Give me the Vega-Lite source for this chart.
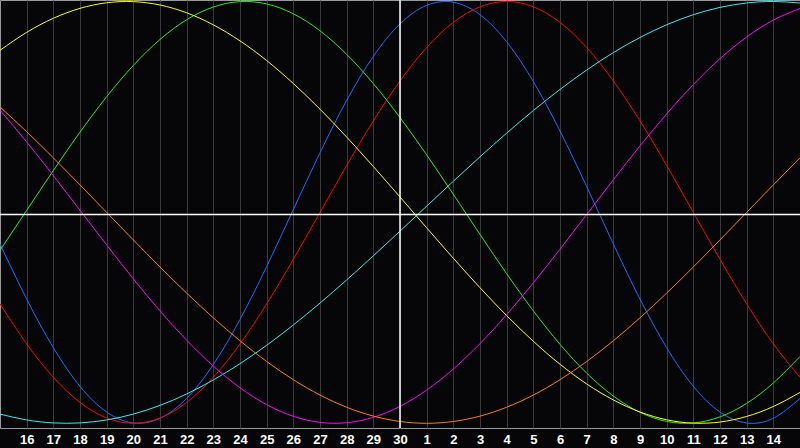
{
  "$schema": "https://vega.github.io/schema/vega-lite/v6.json",
  "width": 800,
  "height": 428,
  "autosize": {"type": "none"},
  "padding": {"left": 0, "top": 0, "right": 0, "bottom": 20},
  "background": "#060608",
  "config": {
    "view": {"stroke": "#9a9a9a", "strokeWidth": 1, "fill": "#060608"},
    "axisX": {
      "grid": true, "gridColor": "#3a3a3a", "gridWidth": 1,
      "domain": false, "ticks": false, "tickSize": 0,
      "labelColor": "#ffffff", "labelFont": "Liberation Sans", "labelFontWeight": "bold",
      "labelFontSize": 13, "labelPadding": 5, "labelAngle": 0, "labelFlush": false, "labelOverlap": false
    }
  },
  "datasets": {
    "curves": [
      {"s":"Physical","t":0,"v":-0.1497},{"s":"Physical","t":1,"v":-0.411},{"s":"Physical","t":2,"v":-0.6415},{"s":"Physical","t":3,"v":-0.8247},{"s":"Physical","t":4,"v":-0.9468},{"s":"Physical","t":5,"v":-0.9985},{"s":"Physical","t":6,"v":-0.9762},{"s":"Physical","t":7,"v":-0.8816},{"s":"Physical","t":8,"v":-0.7217},{"s":"Physical","t":9,"v":-0.5077},{"s":"Physical","t":10,"v":-0.2566},{"s":"Physical","t":11,"v":0.0136},{"s":"Physical","t":12,"v":0.2828},{"s":"Physical","t":13,"v":0.5313},{"s":"Physical","t":14,"v":0.7398},{"s":"Physical","t":15,"v":0.8941},{"s":"Physical","t":16,"v":0.9818},{"s":"Physical","t":17,"v":0.9966},{"s":"Physical","t":18,"v":0.9376},{"s":"Physical","t":19,"v":0.809},{"s":"Physical","t":20,"v":0.6205},{"s":"Physical","t":21,"v":0.3859},{"s":"Physical","t":22,"v":0.1226},{"s":"Physical","t":23,"v":-0.1497},{"s":"Physical","t":24,"v":-0.411},{"s":"Physical","t":25,"v":-0.6415},{"s":"Physical","t":26,"v":-0.8247},{"s":"Physical","t":27,"v":-0.9468},{"s":"Physical","t":28,"v":-0.9985},{"s":"Physical","t":29,"v":-0.9762},{"s":"Physical","t":30,"v":-0.8816},
      {"s":"Emotional","t":0,"v":-0.4339},{"s":"Emotional","t":1,"v":-0.6235},{"s":"Emotional","t":2,"v":-0.7818},{"s":"Emotional","t":3,"v":-0.901},{"s":"Emotional","t":4,"v":-0.9749},{"s":"Emotional","t":5,"v":-1},{"s":"Emotional","t":6,"v":-0.9749},{"s":"Emotional","t":7,"v":-0.901},{"s":"Emotional","t":8,"v":-0.7818},{"s":"Emotional","t":9,"v":-0.6235},{"s":"Emotional","t":10,"v":-0.4339},{"s":"Emotional","t":11,"v":-0.2225},{"s":"Emotional","t":12,"v":0},{"s":"Emotional","t":13,"v":0.2225},{"s":"Emotional","t":14,"v":0.4339},{"s":"Emotional","t":15,"v":0.6235},{"s":"Emotional","t":16,"v":0.7818},{"s":"Emotional","t":17,"v":0.901},{"s":"Emotional","t":18,"v":0.9749},{"s":"Emotional","t":19,"v":1},{"s":"Emotional","t":20,"v":0.9749},{"s":"Emotional","t":21,"v":0.901},{"s":"Emotional","t":22,"v":0.7818},{"s":"Emotional","t":23,"v":0.6235},{"s":"Emotional","t":24,"v":0.4339},{"s":"Emotional","t":25,"v":0.2225},{"s":"Emotional","t":26,"v":0},{"s":"Emotional","t":27,"v":-0.2225},{"s":"Emotional","t":28,"v":-0.4339},{"s":"Emotional","t":29,"v":-0.6235},{"s":"Emotional","t":30,"v":-0.7818},
      {"s":"Intellectual","t":0,"v":-0.1798},{"s":"Intellectual","t":1,"v":0.0096},{"s":"Intellectual","t":2,"v":0.1986},{"s":"Intellectual","t":3,"v":0.3804},{"s":"Intellectual","t":4,"v":0.5487},{"s":"Intellectual","t":5,"v":0.697},{"s":"Intellectual","t":6,"v":0.82},{"s":"Intellectual","t":7,"v":0.9135},{"s":"Intellectual","t":8,"v":0.974},{"s":"Intellectual","t":9,"v":0.9993},{"s":"Intellectual","t":10,"v":0.9884},{"s":"Intellectual","t":11,"v":0.9418},{"s":"Intellectual","t":12,"v":0.8612},{"s":"Intellectual","t":13,"v":0.7494},{"s":"Intellectual","t":14,"v":0.6107},{"s":"Intellectual","t":15,"v":0.4498},{"s":"Intellectual","t":16,"v":0.2726},{"s":"Intellectual","t":17,"v":0.0856},{"s":"Intellectual","t":18,"v":-0.1045},{"s":"Intellectual","t":19,"v":-0.2908},{"s":"Intellectual","t":20,"v":-0.4667},{"s":"Intellectual","t":21,"v":-0.6255},{"s":"Intellectual","t":22,"v":-0.7621},{"s":"Intellectual","t":23,"v":-0.8708},{"s":"Intellectual","t":24,"v":-0.948},{"s":"Intellectual","t":25,"v":-0.9911},{"s":"Intellectual","t":26,"v":-0.9984},{"s":"Intellectual","t":27,"v":-0.9695},{"s":"Intellectual","t":28,"v":-0.9056},{"s":"Intellectual","t":29,"v":-0.809},{"s":"Intellectual","t":30,"v":-0.6834},
      {"s":"Aesthetic","t":0,"v":0.7686},{"s":"Aesthetic","t":1,"v":0.8536},{"s":"Aesthetic","t":2,"v":0.9204},{"s":"Aesthetic","t":3,"v":0.9675},{"s":"Aesthetic","t":4,"v":0.994},{"s":"Aesthetic","t":5,"v":0.9993},{"s":"Aesthetic","t":6,"v":0.9834},{"s":"Aesthetic","t":7,"v":0.9464},{"s":"Aesthetic","t":8,"v":0.8893},{"s":"Aesthetic","t":9,"v":0.8133},{"s":"Aesthetic","t":10,"v":0.72},{"s":"Aesthetic","t":11,"v":0.6111},{"s":"Aesthetic","t":12,"v":0.4894},{"s":"Aesthetic","t":13,"v":0.3572},{"s":"Aesthetic","t":14,"v":0.2174},{"s":"Aesthetic","t":15,"v":0.0731},{"s":"Aesthetic","t":16,"v":-0.0731},{"s":"Aesthetic","t":17,"v":-0.2174},{"s":"Aesthetic","t":18,"v":-0.3572},{"s":"Aesthetic","t":19,"v":-0.4894},{"s":"Aesthetic","t":20,"v":-0.6111},{"s":"Aesthetic","t":21,"v":-0.72},{"s":"Aesthetic","t":22,"v":-0.8133},{"s":"Aesthetic","t":23,"v":-0.8893},{"s":"Aesthetic","t":24,"v":-0.9464},{"s":"Aesthetic","t":25,"v":-0.9834},{"s":"Aesthetic","t":26,"v":-0.9993},{"s":"Aesthetic","t":27,"v":-0.994},{"s":"Aesthetic","t":28,"v":-0.9675},{"s":"Aesthetic","t":29,"v":-0.9204},{"s":"Aesthetic","t":30,"v":-0.8536},
      {"s":"Spiritual","t":0,"v":-0.9564},{"s":"Spiritual","t":1,"v":-0.9842},{"s":"Spiritual","t":2,"v":-0.9982},{"s":"Spiritual","t":3,"v":-0.9982},{"s":"Spiritual","t":4,"v":-0.9842},{"s":"Spiritual","t":5,"v":-0.9564},{"s":"Spiritual","t":6,"v":-0.9151},{"s":"Spiritual","t":7,"v":-0.861},{"s":"Spiritual","t":8,"v":-0.7945},{"s":"Spiritual","t":9,"v":-0.7175},{"s":"Spiritual","t":10,"v":-0.63},{"s":"Spiritual","t":11,"v":-0.5338},{"s":"Spiritual","t":12,"v":-0.43},{"s":"Spiritual","t":13,"v":-0.3203},{"s":"Spiritual","t":14,"v":-0.206},{"s":"Spiritual","t":15,"v":-0.0887},{"s":"Spiritual","t":16,"v":0.0297},{"s":"Spiritual","t":17,"v":0.1476},{"s":"Spiritual","t":18,"v":0.2636},{"s":"Spiritual","t":19,"v":0.3759},{"s":"Spiritual","t":20,"v":0.4828},{"s":"Spiritual","t":21,"v":0.583},{"s":"Spiritual","t":22,"v":0.6749},{"s":"Spiritual","t":23,"v":0.7576},{"s":"Spiritual","t":24,"v":0.8294},{"s":"Spiritual","t":25,"v":0.8897},{"s":"Spiritual","t":26,"v":0.9374},{"s":"Spiritual","t":27,"v":0.972},{"s":"Spiritual","t":28,"v":0.993},{"s":"Spiritual","t":29,"v":1},{"s":"Spiritual","t":30,"v":0.993},
      {"s":"Intuitive","t":0,"v":0.4848},{"s":"Intuitive","t":1,"v":0.3341},{"s":"Intuitive","t":2,"v":0.1745},{"s":"Intuitive","t":3,"v":0.0101},{"s":"Intuitive","t":4,"v":-0.1547},{"s":"Intuitive","t":5,"v":-0.3152},{"s":"Intuitive","t":6,"v":-0.4672},{"s":"Intuitive","t":7,"v":-0.6062},{"s":"Intuitive","t":8,"v":-0.7288},{"s":"Intuitive","t":9,"v":-0.8317},{"s":"Intuitive","t":10,"v":-0.9117},{"s":"Intuitive","t":11,"v":-0.9669},{"s":"Intuitive","t":12,"v":-0.9957},{"s":"Intuitive","t":13,"v":-0.9974},{"s":"Intuitive","t":14,"v":-0.9718},{"s":"Intuitive","t":15,"v":-0.9198},{"s":"Intuitive","t":16,"v":-0.8426},{"s":"Intuitive","t":17,"v":-0.7424},{"s":"Intuitive","t":18,"v":-0.6222},{"s":"Intuitive","t":19,"v":-0.4846},{"s":"Intuitive","t":20,"v":-0.3341},{"s":"Intuitive","t":21,"v":-0.1745},{"s":"Intuitive","t":22,"v":-0.0099},{"s":"Intuitive","t":23,"v":0.1547},{"s":"Intuitive","t":24,"v":0.3153},{"s":"Intuitive","t":25,"v":0.4672},{"s":"Intuitive","t":26,"v":0.6062},{"s":"Intuitive","t":27,"v":0.729},{"s":"Intuitive","t":28,"v":0.8317},{"s":"Intuitive","t":29,"v":0.9118},{"s":"Intuitive","t":30,"v":0.9669},
      {"s":"Awareness","t":0,"v":0.5},{"s":"Awareness","t":1,"v":0.3827},{"s":"Awareness","t":2,"v":0.2588},{"s":"Awareness","t":3,"v":0.1305},{"s":"Awareness","t":4,"v":0},{"s":"Awareness","t":5,"v":-0.1305},{"s":"Awareness","t":6,"v":-0.2588},{"s":"Awareness","t":7,"v":-0.3827},{"s":"Awareness","t":8,"v":-0.5},{"s":"Awareness","t":9,"v":-0.6088},{"s":"Awareness","t":10,"v":-0.7071},{"s":"Awareness","t":11,"v":-0.7934},{"s":"Awareness","t":12,"v":-0.866},{"s":"Awareness","t":13,"v":-0.9239},{"s":"Awareness","t":14,"v":-0.9659},{"s":"Awareness","t":15,"v":-0.9914},{"s":"Awareness","t":16,"v":-1},{"s":"Awareness","t":17,"v":-0.9914},{"s":"Awareness","t":18,"v":-0.9659},{"s":"Awareness","t":19,"v":-0.9239},{"s":"Awareness","t":20,"v":-0.866},{"s":"Awareness","t":21,"v":-0.7934},{"s":"Awareness","t":22,"v":-0.7071},{"s":"Awareness","t":23,"v":-0.6088},{"s":"Awareness","t":24,"v":-0.5},{"s":"Awareness","t":25,"v":-0.3827},{"s":"Awareness","t":26,"v":-0.2588},{"s":"Awareness","t":27,"v":-0.1305},{"s":"Awareness","t":28,"v":0},{"s":"Awareness","t":29,"v":0.1305},{"s":"Awareness","t":30,"v":0.2588}
    ],
    "cross": [{"t": 15, "v": -0.01}]
  },
  "layer": [
    {
      "data": {"name": "curves"},
      "mark": {"type": "line", "interpolate": "natural", "strokeWidth": 1, "clip": true},
      "encoding": {
        "x": {"field": "t", "type": "quantitative", "scale": {"domain": [0, 30], "nice": false, "zero": false},
              "axis": {"title": null, "values": [1,2,3,4,5,6,7,8,9,10,11,12,13,14,15,16,17,18,19,20,21,22,23,24,25,26,27,28,29],
                       "labelExpr": "datum.value <= 15 ? datum.value + 15 : datum.value - 15"}},
        "y": {"field": "v", "type": "quantitative", "scale": {"domain": [-1.0223, 1.0071], "nice": false, "zero": false}, "axis": null},
        "color": {"field": "s", "type": "nominal", "legend": null,
                  "scale": {"domain": ["Physical","Emotional","Intellectual","Aesthetic","Spiritual","Intuitive","Awareness"],
                            "range": ["#1c6cff","#ff0000","#22ee22","#ffff00","#33eeee","#ff00ff","#ff8000"]}}
      }
    },
    {
      "data": {"name": "cross"},
      "mark": {"type": "rule", "color": "#ffffff", "strokeWidth": 1.5},
      "encoding": {
        "x": {"field": "t", "type": "quantitative", "axis": {"title": null, "values": [1,2,3,4,5,6,7,8,9,10,11,12,13,14,15,16,17,18,19,20,21,22,23,24,25,26,27,28,29],
                       "labelExpr": "datum.value <= 15 ? datum.value + 15 : datum.value - 15"}}
      }
    },
    {
      "data": {"name": "cross"},
      "mark": {"type": "rule", "color": "#ffffff", "strokeWidth": 1.5},
      "encoding": {
        "y": {"field": "v", "type": "quantitative", "axis": null}
      }
    }
  ]
}
